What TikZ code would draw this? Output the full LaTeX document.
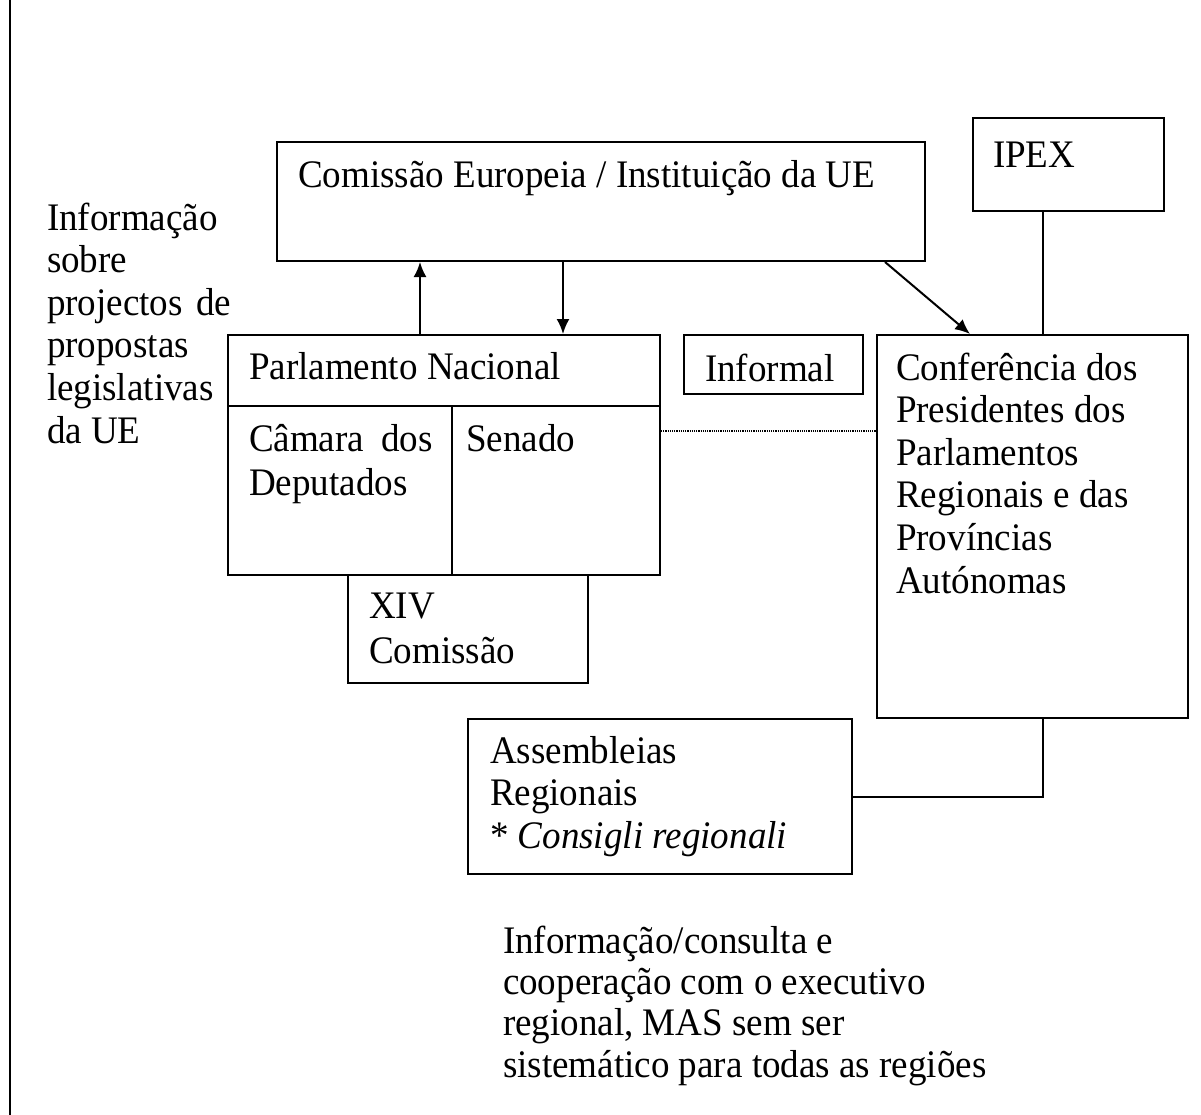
\documentclass[tikz,border=0pt]{standalone}
\usepackage{fontspec}
\setmainfont{Liberation Serif}[FakeStretch=0.95]
\usetikzlibrary{arrows.meta}

\begin{document}
\begin{tikzpicture}[%
       x=1pt, y=-1pt,
       >={Latex[length=15pt,width=13pt]},
       line width=2pt,
       box/.style={draw, anchor=north west, inner sep=0pt},
       txt/.style={anchor=base west, align=left, inner sep=0pt,
                   font=\fontsize{39}{#1}\selectfont},
       txt/.default=42.6
     ]
     \useasboundingbox (0,0) rectangle (1201,1115);
     \draw (10,0) -- (10,1115);

     % boxes
     \node[box, minimum width=648pt, minimum height=119pt] (com)  at (276,141) {};
     \node[box, minimum width=191pt, minimum height=93pt]  (ipex) at (972,117) {};
     \node[box, minimum width=432pt, minimum height=240pt] (parl) at (227,334) {};
     \node[box, minimum width=240pt, minimum height=108pt] (xiv)  at (347,574) {};
     \node[box, minimum width=179pt, minimum height=59pt]  (inf)  at (683,334) {};
     \node[box, minimum width=311pt, minimum height=383pt] (conf) at (876,334) {};
     \node[box, minimum width=384pt, minimum height=155pt] (asm)  at (467,718) {};

     % texts (base = last line)
     \node[txt] (comtxt)  at ([shift={(21,47)}]com.north west)  {Comissão Europeia / Instituição da UE};
     \node[txt] (ipextxt) at ([shift={(20,51)}]ipex.north west) {IPEX};
     \node[txt] (infotxt) at (46,443) {Informação\\sobre\\projectos\hspace{4pt} de\\propostas\\legislativas\\da UE};
     \node[txt] (parltxt) at ([shift={(21,45)}]parl.north west)  {Parlamento Nacional};
     \node[txt=44] (camtxt) at ([shift={(21,161)}]parl.north west) {Câmara\hspace{8pt} dos\\Deputados};
     \node[txt] (sentxt)  at ([shift={(238,117)}]parl.north west) {Senado};
     \node[txt=45] (xivtxt) at ([shift={(21,89)}]xiv.north west)  {XIV\\Comissão};
     \node[txt] (inftxt)  at ([shift={(21,47)}]inf.north west)   {Informal};
     \node[txt] (conftxt) at ([shift={(19,259)}]conf.north west) {Conferência dos\\Presidentes dos\\Parlamentos\\Regionais e das\\Províncias\\Autónomas};
     \node[txt=42.5] (asmtxt) at ([shift={(22,130)}]asm.north west) {Assembleias\\Regionais\\* \textit{Consigli regionali}};
     \node[txt=41.3] (notetxt) at (502,1077) {Informação/consulta e\\cooperação com o executivo\\regional, MAS sem ser\\sistemático para todas as regiões};

     % parlamento divisions
     \draw ([yshift=-72pt]parl.north west) -- ([yshift=-72pt]parl.north east);
     \draw ([xshift=225pt,yshift=-72pt]parl.north west) -- ([xshift=225pt]parl.south west);

     % connectors
     \draw[->] ([xshift=193pt]parl.north west) -- ([xshift=193pt]parl.north west |- com.south);
     \draw[->] ([xshift=336pt]parl.north west |- com.south) -- ([xshift=336pt]parl.north west);
     \draw[->] ([xshift=-41pt]com.south east) -- ([xshift=94pt]conf.north west);
     \draw ([xshift=71pt]ipex.south west) -- ([xshift=71pt]ipex.south west |- conf.north);
     \draw[densely dotted, line width=1.2pt] ([yshift=24pt]parl.east) -- ([yshift=24pt]parl.east -| conf.west);
     \draw ([xshift=167pt]conf.south west) |- (asm.east);
\end{tikzpicture}
\end{document}
